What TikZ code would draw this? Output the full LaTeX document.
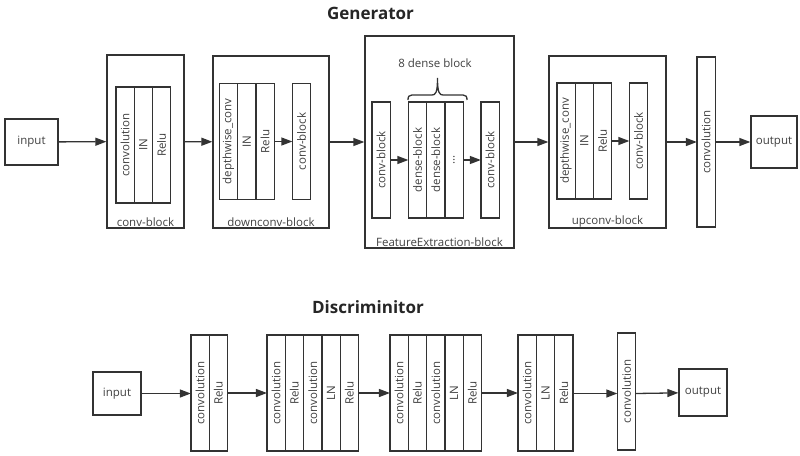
\documentclass[tikz,border=0pt]{standalone}
\usepackage{fontspec}
\setmainfont{Open Sans}
\usetikzlibrary{arrows.meta,positioning}

\tikzset{
  box/.style={draw=black!80, line width=1.3pt, inner sep=0pt, text=black!75, font=\fontsize{11.5}{13}\selectfont},
  col/.style={box, outer sep=0pt, minimum width=18.3pt, minimum height=116pt},
  lbl/.style={inner sep=1.5pt, text=black!75, font=\fontsize{11.5}{13}\selectfont},
  ttl/.style={inner sep=0pt, text=black!85, font=\fontsize{17}{19}\selectfont\bfseries},
  arr/.style={draw=black!80, line width=1.3pt, -{Triangle[length=11pt,width=8pt]}},
}
\newcommand{\vtxt}[1]{\rotatebox{90}{#1}}

\begin{document}
\begin{tikzpicture}[x=1pt,y=1pt,yscale=-1,xscale=1]
\useasboundingbox (0,0) rectangle (800,455);

%Text Node: title
\node[ttl] (gtitle) at (370.5,13) {Generator};

%Shape: input
\node[box, minimum width=53pt, minimum height=46pt] (gin) at (31.5,142) {input};

%Shape: conv-block
\node[box, minimum width=77pt, minimum height=173pt] (cb) at (145.5,141.5) {};
\node[lbl, anchor=south] (cbl) at (cb.south) {conv-block};
\node[col] (cb1) at (125,145) {\vtxt{convolution}};
\node[col, right=0pt of cb1] (cb2) {\vtxt{IN}};
\node[col, right=0pt of cb2] (cb3) {\vtxt{Relu}};

%Shape: downconv-block
\node[box, minimum width=116pt, minimum height=172pt] (dc) at (271,142) {};
\node[lbl, anchor=south] (dcl) at (dc.south) {downconv-block};
\node[col] (dc1) at (228.5,141.5) {\vtxt{depthwise\_conv}};
\node[col, right=0pt of dc1] (dc2) {\vtxt{IN}};
\node[col, right=0pt of dc2] (dc3) {\vtxt{Relu}};
\node[col] (dc4) at (301.5,141.5) {\vtxt{conv-block}};

%Shape: FeatureExtraction-block
\node[box, minimum width=149pt, minimum height=212pt] (fe) at (439.5,142) {};
\node[lbl, anchor=south] (fel) at (fe.south) {FeatureExtraction-block};
\node[col] (fe1) at (381,160) {\vtxt{conv-block}};
\node[col] (fe2) at (417.5,160) {\vtxt{dense-block}};
\node[col, right=0pt of fe2] (fe3) {\vtxt{dense-block}};
\node[col, right=0pt of fe3] (fe4) {\vtxt{...}};
\node[col] (fe5) at (490,160) {\vtxt{conv-block}};
%Shape: brace
\draw[line width=1.3pt, draw=black!80] (408,100) .. controls (408,96.5) and (409,95) .. (412,95) -- (432,95) .. controls (435.5,95) and (437.5,93) .. (437.5,78) .. controls (437.5,93) and (439.5,95) .. (443,95) -- (463,95) .. controls (466,95) and (467,96.5) .. (467,100);
\node[lbl] (fen) at (435,63) {8 dense block};

%Shape: upconv-block
\node[box, minimum width=117pt, minimum height=172pt] (uc) at (607.5,142) {};
\node[lbl, anchor=south] (ucl) at (uc.south) {upconv-block};
\node[col] (uc1) at (566,141) {\vtxt{depthwise\_conv}};
\node[col, right=0pt of uc1] (uc2) {\vtxt{IN}};
\node[col, right=0pt of uc2] (uc3) {\vtxt{Relu}};
\node[col] (uc4) at (638.5,141) {\vtxt{conv-block}};

%Shape: convolution and output
\node[col, minimum height=170pt] (gconv) at (706,142) {\vtxt{convolution}};
\node[box, minimum width=46pt, minimum height=52pt] (gout) at (774,142) {output};

%Straight Lines
\draw[arr] (gin) -- (cb);
\draw[arr] (cb) -- (dc);
\draw[arr] (dc3) -- (dc4);
\draw[arr] (dc) -- (fe);
\draw[arr] (fe1) -- (fe2);
\draw[arr] (fe4) -- (fe5);
\draw[arr] (fe) -- (uc);
\draw[arr] (uc3) -- (uc4);
\draw[arr] (uc) -- (gconv);
\draw[arr] (gconv) -- (gout);

%Text Node: title
\node[ttl] (dtitle) at (368,307) {Discriminitor};

%Shape: input
\node[box, minimum width=48pt, minimum height=43pt] (din) at (117,393.5) {input};

%Shape: blocks
\node[col] (a1) at (200,393) {\vtxt{convolution}};
\node[col, right=0pt of a1] (a2) {\vtxt{Relu}};

\node[col] (b1) at (276.1,393) {\vtxt{convolution}};
\node[col, right=0pt of b1] (b2) {\vtxt{Relu}};
\node[col, right=0pt of b2] (b3) {\vtxt{convolution}};
\node[col, right=0pt of b3] (b4) {\vtxt{LN}};
\node[col, right=0pt of b4] (b5) {\vtxt{Relu}};

\node[col] (c1) at (399.1,393) {\vtxt{convolution}};
\node[col, right=0pt of c1] (c2) {\vtxt{Relu}};
\node[col, right=0pt of c2] (c3) {\vtxt{convolution}};
\node[col, right=0pt of c3] (c4) {\vtxt{LN}};
\node[col, right=0pt of c4] (c5) {\vtxt{Relu}};

\node[col] (e1) at (527.1,393) {\vtxt{convolution}};
\node[col, right=0pt of e1] (e2) {\vtxt{LN}};
\node[col, right=0pt of e2] (e3) {\vtxt{Relu}};

\node[col, minimum height=117pt] (dconv) at (626.5,391.5) {\vtxt{convolution}};
\node[box, minimum width=48pt, minimum height=47pt] (dout) at (703,392.5) {output};

%Straight Lines
\draw[arr] (din) -- (din -| a1.west);
\draw[arr] (a2) -- (b1);
\draw[arr] (b5) -- (c1);
\draw[arr] (c5) -- (e1);
\draw[arr] (e3.east |- din) -- (din -| dconv.west);
\draw[arr] (dconv.east |- din) -- (dout);

\end{tikzpicture}
\end{document}
